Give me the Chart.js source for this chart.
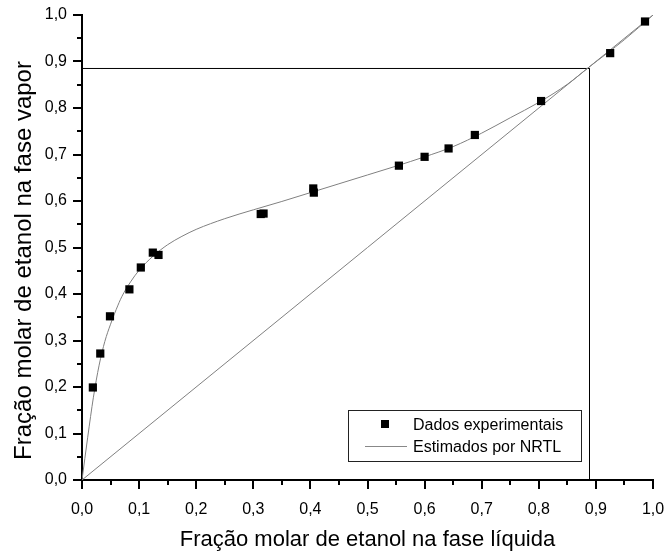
<!DOCTYPE html>
<html lang="pt">
<head>
<meta charset="utf-8">
<title>Etanol - diagrama x-y</title>
<script src="https://cdn.jsdelivr.net/npm/chart.js@4.4.1/dist/chart.umd.min.js"></script>
<style>
  html, body { margin: 0; padding: 0; background: #fff; }
  canvas { display: block; }
</style>
</head>
<body>
<canvas id="xyChart" width="665" height="552"></canvas>
<script>
// Dados experimentais: fracao molar de etanol no liquido (x) e no vapor (y)
const expX = [0.019, 0.032, 0.049, 0.083, 0.103, 0.124, 0.134, 0.313, 0.318, 0.405, 0.406, 0.555, 0.600, 0.642, 0.688, 0.804, 0.925, 0.986];
const expY = [0.199, 0.272, 0.352, 0.410, 0.457, 0.489, 0.484, 0.572, 0.573, 0.627, 0.618, 0.676, 0.695, 0.713, 0.742, 0.815, 0.918, 0.986];

// Curva estimada por NRTL
const nrtlX = [0, 0.01, 0.02, 0.03, 0.04, 0.05, 0.06, 0.07, 0.085, 0.1, 0.125, 0.15, 0.175, 0.2, 0.25, 0.3, 0.35, 0.4, 0.45, 0.5, 0.55, 0.6, 0.65, 0.7, 0.75, 0.8, 0.85, 0.887, 0.95, 1.0];
const nrtlY = [0, 0.092, 0.178, 0.247, 0.298, 0.335, 0.367, 0.395, 0.426, 0.451, 0.482, 0.506, 0.524, 0.539, 0.562, 0.581, 0.599, 0.618, 0.637, 0.656, 0.675, 0.695, 0.717, 0.746, 0.779, 0.812, 0.851, 0.887, 0.947, 1.0];

// Diagonal y = x
const diagX = [0, 1];
const diagY = [0, 1];

// Azeotropo
const azeoX = 0.8888;
const azeoY = 0.885;

const tickLabels = ['0,0', '0,1', '0,2', '0,3', '0,4', '0,5', '0,6', '0,7', '0,8', '0,9', '1,0'];

const xTitle = 'Fração molar de etanol na fase líquida';
const yTitle = 'Fração molar de etanol na fase vapor';

const FONT = '"Liberation Sans", Arial, sans-serif';
Chart.defaults.font.family = FONT;
Chart.defaults.color = '#000';

function pairs(xs, ys) {
  return xs.map((x, i) => ({ x: x, y: ys[i] }));
}

// ticks, titulos e legenda no estilo do Origin
const axisDecor = {
  id: 'axisDecor',
  afterDraw(chart) {
    const { ctx, chartArea: a, scales: { x, y } } = chart;
    ctx.save();
    ctx.strokeStyle = '#000';
    ctx.lineWidth = 2;
    ctx.beginPath();
    x.ticks.forEach(t => {
      let px = Math.round(x.getPixelForValue(t.value));
      ctx.moveTo(px, a.bottom); ctx.lineTo(px, a.bottom + 9);
      if (t.value < 0.99) {
        px = Math.round(x.getPixelForValue(t.value + 0.05));
        ctx.moveTo(px, a.bottom); ctx.lineTo(px, a.bottom + 5);
      }
    });
    y.ticks.forEach(t => {
      let py = Math.round(y.getPixelForValue(t.value));
      ctx.moveTo(a.left, py); ctx.lineTo(a.left - 9, py);
      if (t.value < 0.99) {
        py = Math.round(y.getPixelForValue(t.value + 0.05));
        ctx.moveTo(a.left, py); ctx.lineTo(a.left - 5, py);
      }
    });
    ctx.stroke();

    // titulos dos eixos
    ctx.fillStyle = '#000';
    ctx.textAlign = 'center';
    ctx.textBaseline = 'alphabetic';
    ctx.font = '22px ' + FONT;
    ctx.fillText(xTitle, (a.left + a.right) / 2, 546);
    ctx.save();
    ctx.translate(31, (a.top + a.bottom) / 2 + 13);
    ctx.rotate(-Math.PI / 2);
    ctx.font = '24px ' + FONT;
    ctx.fillText(yTitle, 0, 0);
    ctx.restore();

    // legenda
    ctx.lineWidth = 1;
    ctx.strokeStyle = '#222';
    ctx.strokeRect(348.5, 410.5, 233, 51);
    ctx.fillStyle = '#000';
    ctx.fillRect(381, 420, 8, 8);
    ctx.strokeStyle = '#888';
    ctx.beginPath();
    ctx.moveTo(365, 446.5); ctx.lineTo(407, 446.5);
    ctx.stroke();
    ctx.textAlign = 'left';
    ctx.font = '16px ' + FONT;
    ctx.fillText('Dados experimentais', 413, 430);
    ctx.fillText('Estimados por NRTL', 413, 452);
    ctx.restore();
  }
};

const ctx = document.getElementById('xyChart').getContext('2d');
const xyChart = new Chart(ctx, {
  type: 'scatter',
  data: {
    datasets: [
      {
        label: 'Dados experimentais',
        data: pairs(expX, expY),
        pointStyle: 'rect',
        pointRadius: 5.8,
        pointBackgroundColor: '#000',
        pointBorderColor: '#000',
        pointBorderWidth: 0
      },
      {
        label: 'Estimados por NRTL',
        data: pairs(nrtlX, nrtlY),
        showLine: true,
        borderColor: '#808080',
        borderWidth: 1,
        pointRadius: 0,
        cubicInterpolationMode: 'monotone'
      },
      {
        label: 'y = x',
        data: pairs(diagX, diagY),
        showLine: true,
        borderColor: '#808080',
        borderWidth: 1,
        pointRadius: 0
      },
      {
        label: 'Azeótropo',
        data: [{ x: 0, y: azeoY }, { x: azeoX, y: azeoY }, { x: azeoX, y: 0 }],
        showLine: true,
        borderColor: '#000',
        borderWidth: 1,
        pointRadius: 0
      }
    ]
  },
  options: {
    responsive: false,
    animation: false,
    layout: { padding: { top: 15, right: 12, left: 0, bottom: 0 } },
    plugins: {
      legend: { display: false },
      tooltip: { enabled: false }
    },
    scales: {
      x: {
        min: 0,
        max: 1,
        // ticks desenhados pelo plugin; tickLength so reserva o espaco
        grid: { display: false, drawTicks: true, tickLength: 20 },
        border: { display: true, color: '#000', width: 2 },
        ticks: {
          stepSize: 0.1,
          autoSkip: false,
          maxRotation: 0,
          padding: 0,
          font: { size: 16 },
          callback: (v, i) => tickLabels[i]
        },
        afterFit: scale => { scale.height = 72; }
      },
      y: {
        min: 0,
        max: 1,
        grid: { display: false, drawTicks: true, tickLength: 15 },
        border: { display: true, color: '#000', width: 2 },
        ticks: {
          stepSize: 0.1,
          autoSkip: false,
          padding: 0,
          font: { size: 16 },
          callback: (v, i) => tickLabels[i]
        },
        afterFit: scale => { scale.width = 82; }
      }
    }
  },
  plugins: [axisDecor]
});
</script>
</body>
</html>
